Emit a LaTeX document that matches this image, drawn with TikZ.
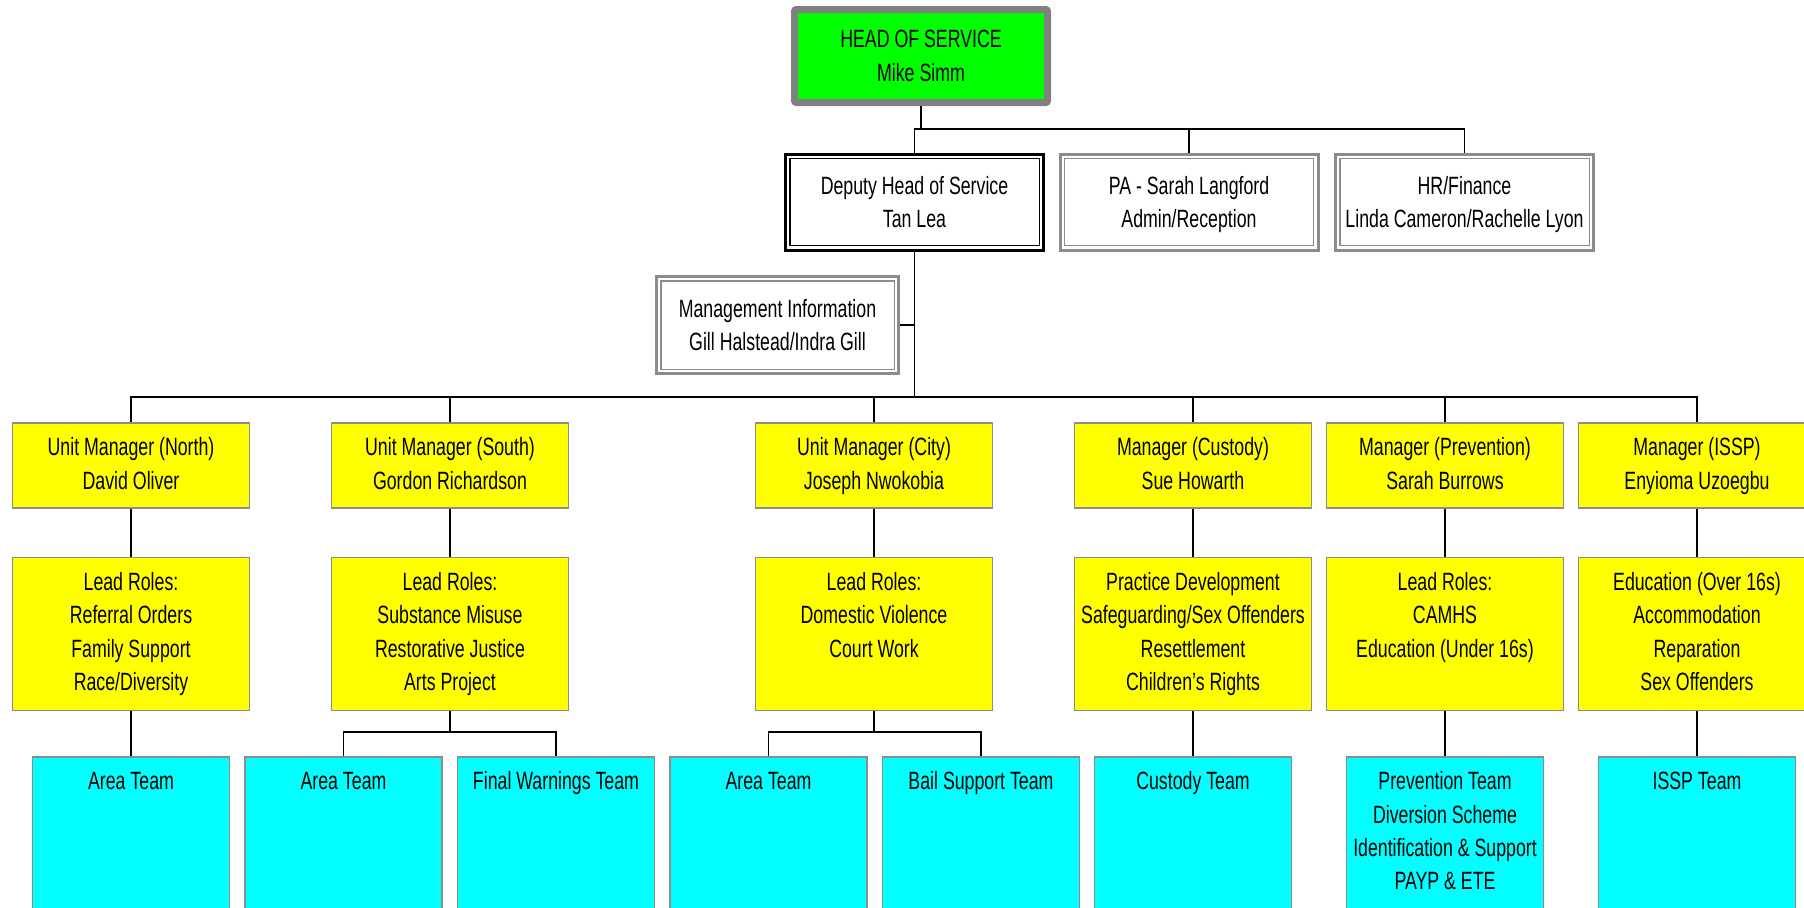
\documentclass[tikz,border=0pt]{standalone}
\usepackage{fontspec}
\setmainfont{Liberation Sans}[FakeStretch=0.71]
\usetikzlibrary{positioning}
\definecolor{headgreen}{RGB}{0,255,0}
\definecolor{headgray}{RGB}{128,128,128}
\definecolor{boxgray}{RGB}{140,140,140}
\definecolor{unityellow}{RGB}{255,255,0}
\definecolor{teamcyan}{RGB}{0,255,255}

\begin{document}
\begin{tikzpicture}[
  x=0.5pt, y=-0.5pt,
  font=\fontsize{12.5pt}{16.7pt}\selectfont,
  node distance=24pt,
  link/.style={draw=black, line width=0.6pt},
  headbox/.style={
    rectangle, rounded corners=1pt,
    draw=headgray, line width=3.5pt, fill=headgreen,
    minimum width=126.5pt, minimum height=46.5pt,
    inner sep=0pt, align=center
  },
  dblbox/.style={
    rectangle, draw=#1, line width=1.5pt, fill=white,
    minimum width=129pt, minimum height=48pt,
    inner sep=0pt, align=center, text height=25.4pt, text depth=0pt,
    path picture={\draw[#1, line width=0.6pt]
      ([shift={(2.2pt,2.2pt)}]path picture bounding box.south west) rectangle
      ([shift={(-2.2pt,-2.2pt)}]path picture bounding box.north east);}
  },
  % text height/depth keep the first line near the top of the box
  mgrbox/.style 2 args={
    rectangle, draw=boxgray, line width=0.75pt, fill=unityellow,
    minimum width=118.5pt, inner sep=0pt, align=center,
    text height=#1, text depth=#2
  },
  teambox/.style 2 args={
    rectangle, draw=boxgray, line width=0.75pt, fill=teamcyan,
    minimum width=98.5pt, inner sep=0pt, align=center,
    text height=#1, text depth=#2, anchor=north
  }
]
\useasboundingbox (0,0) rectangle (1804,907);
\clip (0,0) rectangle (1804,907);

% top of the chart
\node[headbox] (head) at (921,56) {HEAD OF SERVICE\\Mike Simm};
\node[dblbox=black] (deputy) at (914.5,202) {Deputy Head of Service\\Tan Lea};
\node[dblbox=boxgray] (pa) at (1189,202) {PA - Sarah Langford\\Admin/Reception};
\node[dblbox=boxgray] (hr) at (1464.5,202) {HR/Finance\\Linda Cameron/Rachelle Lyon};
\node[dblbox=boxgray, minimum width=121pt, minimum height=48.5pt] (mis) at (777.5,325) {Management Information\\Gill Halstead/Indra Gill};

% unit managers
\node[mgrbox={33.2pt}{9.3pt}, anchor=north] (unorth) at (131,422) {Unit Manager (North)\\David Oliver};
\node[mgrbox={33.2pt}{9.3pt}, anchor=north] (usouth) at (450,422) {Unit Manager (South)\\Gordon Richardson};
\node[mgrbox={33.2pt}{9.3pt}, anchor=north] (ucity) at (874,422) {Unit Manager (City)\\Joseph Nwokobia};
\node[mgrbox={33.2pt}{9.3pt}, anchor=north] (ucustody) at (1193,422) {Manager (Custody)\\Sue Howarth};
\node[mgrbox={33.2pt}{9.3pt}, anchor=north] (uprev) at (1445,422) {Manager (Prevention)\\Sarah Burrows};
\node[mgrbox={33.2pt}{9.3pt}, anchor=north] (uissp) at (1697,422) {Manager (ISSP)\\Enyioma Uzoegbu};

% lead roles
\node[mgrbox={66.6pt}{9.9pt}, below=of unorth] (lnorth) {Lead Roles:\\Referral Orders\\Family Support\\Race/Diversity};
\node[mgrbox={66.6pt}{9.9pt}, below=of usouth] (lsouth) {Lead Roles:\\Substance Misuse\\Restorative Justice\\Arts Project};
\node[mgrbox={49.9pt}{26.6pt}, below=of ucity] (lcity) {Lead Roles:\\Domestic Violence\\Court Work};
\node[mgrbox={66.6pt}{9.9pt}, below=of ucustody] (lcustody) {Practice Development\\Safeguarding/Sex Offenders\\Resettlement\\Children's Rights};
\node[mgrbox={49.9pt}{26.6pt}, below=of uprev] (lprev) {Lead Roles:\\CAMHS\\Education (Under 16s)};
\node[mgrbox={66.6pt}{9.9pt}, below=of uissp] (lissp) {Education (Over 16s)\\Accommodation\\Reparation\\Sex Offenders};

% teams
\node[teambox={16.5pt}{63.5pt}] (tnorth) at (131,756) {Area Team};
\node[teambox={16.5pt}{63.5pt}] (tsoutharea) at (343.5,756) {Area Team};
\node[teambox={16.5pt}{63.5pt}] (tsouthfw) at (556,756) {Final Warnings Team};
\node[teambox={16.5pt}{63.5pt}] (tcityarea) at (768.5,756) {Area Team};
\node[teambox={16.5pt}{63.5pt}] (tcitybail) at (981,756) {Bail Support Team};
\node[teambox={16.5pt}{63.5pt}] (tcustody) at (1193,756) {Custody Team};
\node[teambox={66.6pt}{13.4pt}] (tprev) at (1445,756) {Prevention Team\\Diversion Scheme\\Identification \& Support\\PAYP \& ETE};
\node[teambox={16.5pt}{63.5pt}] (tissp) at (1697,756) {ISSP Team};

% connectors
\coordinate (bus1) at (914.5,129);
\coordinate (bus3) at (914.5,397);
\coordinate (sbus) at (450,732);
\coordinate (cbus) at (874,732);

\draw[link] (head.south) -- (head.south |- bus1);
\draw[link] (deputy.north) |- (hr.north |- bus1) -- (hr.north);
\draw[link] (pa.north) -- (pa.north |- bus1);
\draw[link] (deputy.south) -- (bus3);
\draw[link] (mis.east) -- (mis.east -| deputy.south);
\draw[link] (unorth.north) |- (uissp.north |- bus3) -- (uissp.north);
\foreach \u in {usouth,ucity,ucustody,uprev}
  \draw[link] (\u.north) -- (\u.north |- bus3);
\foreach \u in {north,south,city,custody,prev,issp}
  \draw[link] (u\u.south) -- (l\u.north);
\foreach \u in {north,custody,prev,issp}
  \draw[link] (l\u.south) -- (t\u.north);
\draw[link] (lsouth.south) -- (sbus);
\draw[link] (tsoutharea.north) |- (sbus) -| (tsouthfw.north);
\draw[link] (lcity.south) -- (cbus);
\draw[link] (tcityarea.north) |- (cbus) -| (tcitybail.north);

\end{tikzpicture}
\end{document}
